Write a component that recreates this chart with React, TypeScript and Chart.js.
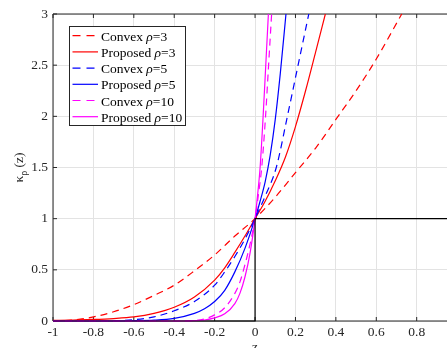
import React, { useEffect, useRef } from "react";
import { Chart, registerables } from "chart.js";

Chart.register(...registerables);

// ---- Data ----
const xTicks = [-1, -0.8, -0.6, -0.4, -0.2, 0, 0.2, 0.4, 0.6, 0.8];
const yTicks = [0, 0.5, 1, 1.5, 2, 2.5, 3];

const zConvex3 = [-1, -0.9, -0.8, -0.7, -0.6, -0.5, -0.4, -0.3, -0.2, -0.1, 0, 0.1, 0.2, 0.3, 0.4, 0.5, 0.6, 0.726];
const vConvex3 = [0, 0.01, 0.04, 0.09, 0.16, 0.25, 0.35, 0.49, 0.645, 0.83, 1, 1.21, 1.45, 1.69, 1.97, 2.25, 2.56, 3];

const zProposed3 = [-1, -0.9, -0.8, -0.7, -0.6, -0.5, -0.4, -0.3, -0.2, -0.15, -0.1, -0.05, 0, 0.05, 0.1, 0.15, 0.2, 0.25, 0.3, 0.348];
const vProposed3 = [0.006, 0.01, 0.015, 0.024, 0.04, 0.075, 0.135, 0.235, 0.4, 0.52, 0.67, 0.83, 1, 1.17, 1.37, 1.6, 1.9, 2.25, 2.63, 3];

const zConvex5 = [-1, -0.8, -0.7, -0.6, -0.5, -0.4, -0.3, -0.2, -0.15, -0.1, -0.05, 0, 0.05, 0.105, 0.16, 0.213, 0.266];
const vConvex5 = [0, 0, 0.003, 0.012, 0.04, 0.1, 0.19, 0.35, 0.48, 0.63, 0.8, 1, 1.22, 1.5, 2, 2.5, 3];

const zProposed5 = [-1, -0.7, -0.6, -0.5, -0.4, -0.3, -0.25, -0.2, -0.15, -0.1, -0.05, 0, 0.025, 0.05, 0.075, 0.1, 0.125, 0.153];
const vProposed5 = [0, 0, 0.003, 0.008, 0.026, 0.075, 0.12, 0.19, 0.3, 0.48, 0.71, 1, 1.17, 1.36, 1.62, 1.97, 2.42, 3];

const zConvex10 = [-1, -0.4, -0.3, -0.25, -0.2, -0.15, -0.1, -0.075, -0.05, -0.025, 0, 0.017, 0.033, 0.052, 0.067, 0.082];
const vConvex10 = [0, 0, 0.004, 0.02, 0.06, 0.13, 0.27, 0.38, 0.55, 0.75, 1, 1.24, 1.5, 2, 2.5, 3];

const zProposed10 = [-1, -0.35, -0.3, -0.25, -0.2, -0.15, -0.1, -0.075, -0.05, -0.025, 0, 0.012, 0.025, 0.04, 0.053, 0.066];
const vProposed10 = [0, 0, 0.003, 0.01, 0.03, 0.07, 0.17, 0.27, 0.43, 0.66, 1, 1.22, 1.5, 2, 2.5, 3];

const zStep = [-1, 0, 0, 0.95];
const vStep = [0, 0, 1, 1];

const seriesNames = ["Convex", "Proposed", "Convex", "Proposed", "Convex", "Proposed"];
const seriesRho = ["3", "3", "5", "5", "10", "10"];
const seriesColors = ["#ff0000", "#ff0000", "#0000ff", "#0000ff", "#ff00ff", "#ff00ff"];
const seriesDashed = [true, false, true, false, true, false];
const seriesZ = [zConvex3, zProposed3, zConvex5, zProposed5, zConvex10, zProposed10];
const seriesV = [vConvex3, vProposed3, vConvex5, vProposed5, vConvex10, vProposed10];

const FONT = "'Liberation Serif', 'Times New Roman', serif";
const AXIS = "#262626";

const fmt = (v: number) => String(Math.round(v * 10) / 10);

const axesPlugin = {
  id: "matlabAxes",
  beforeDatasetsDraw(chart: any) {
    const { ctx, chartArea, scales } = chart;
    const { left, right, top, bottom } = chartArea;
    ctx.save();
    ctx.strokeStyle = AXIS;
    ctx.lineWidth = 1;
    ctx.setLineDash([]);
    ctx.beginPath();
    ctx.moveTo(left, top);
    ctx.lineTo(left, bottom);
    ctx.moveTo(left, bottom);
    ctx.lineTo(right, bottom);
    ctx.moveTo(left, top);
    ctx.lineTo(right, top);
    xTicks.forEach((t) => {
      const x = scales.x.getPixelForValue(t);
      ctx.moveTo(x, bottom);
      ctx.lineTo(x, bottom - 4);
      ctx.moveTo(x, top);
      ctx.lineTo(x, top + 4);
    });
    yTicks.forEach((t) => {
      const y = scales.y.getPixelForValue(t);
      ctx.moveTo(left, y);
      ctx.lineTo(left + 4, y);
    });
    ctx.stroke();
    ctx.restore();
  },
};

const labelsPlugin = {
  id: "axisLabels",
  afterDraw(chart: any) {
    const { ctx, chartArea } = chart;
    ctx.save();
    ctx.fillStyle = AXIS;
    const big = `13.5px ${FONT}`;
    const small = `10px ${FONT}`;
    ctx.font = big;
    const w1 = ctx.measureText("\u03ba").width;
    const w3 = ctx.measureText(" (z)").width;
    ctx.font = small;
    const w2 = ctx.measureText("\u03c1").width;
    const total = w1 + w2 + w3;
    const cy = (chartArea.top + chartArea.bottom) / 2;
    ctx.translate(23, cy);
    ctx.rotate(-Math.PI / 2);
    ctx.textBaseline = "alphabetic";
    ctx.textAlign = "left";
    let x = -total / 2;
    ctx.font = big;
    ctx.fillText("\u03ba", x, 0);
    x += w1;
    ctx.font = small;
    ctx.fillText("\u03c1", x, 3.5);
    x += w2;
    ctx.font = big;
    ctx.fillText(" (z)", x, 0);
    ctx.restore();

    ctx.save();
    ctx.fillStyle = AXIS;
    ctx.font = big;
    ctx.textAlign = "center";
    ctx.textBaseline = "alphabetic";
    ctx.fillText("z", chart.scales.x.getPixelForValue(0), 351);
    ctx.restore();
  },
};

const legendPlugin = {
  id: "boxLegend",
  afterDraw(chart: any) {
    const ctx = chart.ctx;
    ctx.save();
    const x0 = 69.5, y0 = 26.5, w = 116, h = 99;
    ctx.fillStyle = "#ffffff";
    ctx.fillRect(x0, y0, w, h);
    ctx.strokeStyle = AXIS;
    ctx.lineWidth = 1;
    ctx.setLineDash([]);
    ctx.strokeRect(x0, y0, w, h);
    const normal = `13.5px ${FONT}`;
    const italic = `italic 13.5px ${FONT}`;
    seriesNames.forEach((name, i) => {
      const base = 40.7 + i * 16.2;
      const ly = base - 5;
      ctx.strokeStyle = seriesColors[i];
      ctx.lineWidth = 1.2;
      ctx.setLineDash(seriesDashed[i] ? [8, 6] : []);
      ctx.beginPath();
      ctx.moveTo(72.5, ly);
      ctx.lineTo(98, ly);
      ctx.stroke();
      ctx.setLineDash([]);
      ctx.fillStyle = "#000000";
      ctx.textBaseline = "alphabetic";
      ctx.textAlign = "left";
      let x = 101;
      ctx.font = normal;
      ctx.fillText(name + " ", x, base);
      x += ctx.measureText(name + " ").width;
      ctx.font = italic;
      ctx.fillText("\u03c1", x, base);
      x += ctx.measureText("\u03c1").width;
      ctx.font = normal;
      ctx.fillText("=" + seriesRho[i], x, base);
    });
    ctx.restore();
  },
};

export default function App() {
  const canvasRef = useRef<HTMLCanvasElement | null>(null);

  useEffect(() => {
    document.body.style.margin = "0";
    const canvas = canvasRef.current;
    if (!canvas) return;

    const n = seriesNames.length;
    const datasets: any[] = seriesNames.map((name, i) => ({
      label: `${name} \u03c1=${seriesRho[i]}`,
      data: seriesZ[i].map((z, k) => ({ x: z, y: seriesV[i][k] })),
      borderColor: seriesColors[i],
      backgroundColor: seriesColors[i],
      borderWidth: 1.2,
      borderDash: seriesDashed[i] ? [7, 5] : [],
      pointRadius: 0,
      fill: false,
      cubicInterpolationMode: "monotone",
      order: n - i + 1,
      clip: { left: 2, top: 1, right: 0, bottom: 2 },
    }));
    datasets.push({
      label: "step",
      data: zStep.map((z, k) => ({ x: z, y: vStep[k] })),
      borderColor: "#000000",
      borderWidth: 1.2,
      pointRadius: 0,
      fill: false,
      tension: 0,
      cubicInterpolationMode: "default",
      order: 0,
      clip: { left: 2, top: 1, right: 0, bottom: 2 },
    });

    const chart = new Chart(canvas, {
      type: "line",
      data: { datasets },
      options: {
        animation: false,
        responsive: true,
        maintainAspectRatio: false,
        layout: { padding: { top: 14, left: 0, right: 0, bottom: 0 } },
        plugins: { legend: { display: false }, tooltip: { enabled: false } },
        elements: { line: { tension: 0.3 } },
        scales: {
          x: {
            type: "linear",
            min: -1,
            max: 0.95,
            afterBuildTicks: (scale: any) => {
              scale.ticks = xTicks.map((value) => ({ value }));
            },
            afterFit: (scale: any) => {
              scale.height = 27;
            },
            grid: { color: "#e3e3e3", drawTicks: false, lineWidth: 1 },
            border: { display: false },
            ticks: {
              color: AXIS,
              font: { family: FONT, size: 13.5 },
              padding: 3,
              maxRotation: 0,
              autoSkip: false,
              callback: (v: any) => fmt(Number(v)),
            },
          },
          y: {
            type: "linear",
            min: 0,
            max: 3,
            afterBuildTicks: (scale: any) => {
              scale.ticks = yTicks.map((value) => ({ value }));
            },
            afterFit: (scale: any) => {
              scale.width = 53;
            },
            grid: { color: "#e3e3e3", drawTicks: false, lineWidth: 1 },
            border: { display: false },
            ticks: {
              color: AXIS,
              font: { family: FONT, size: 13.5 },
              padding: 5,
              autoSkip: false,
              callback: (v: any) => fmt(Number(v)),
            },
          },
        },
      },
      plugins: [axesPlugin, labelsPlugin, legendPlugin],
    });

    return () => chart.destroy();
  }, []);

  return (
    <div style={{ position: "relative", width: 447, height: 348 }}>
      <canvas ref={canvasRef} />
    </div>
  );
}
